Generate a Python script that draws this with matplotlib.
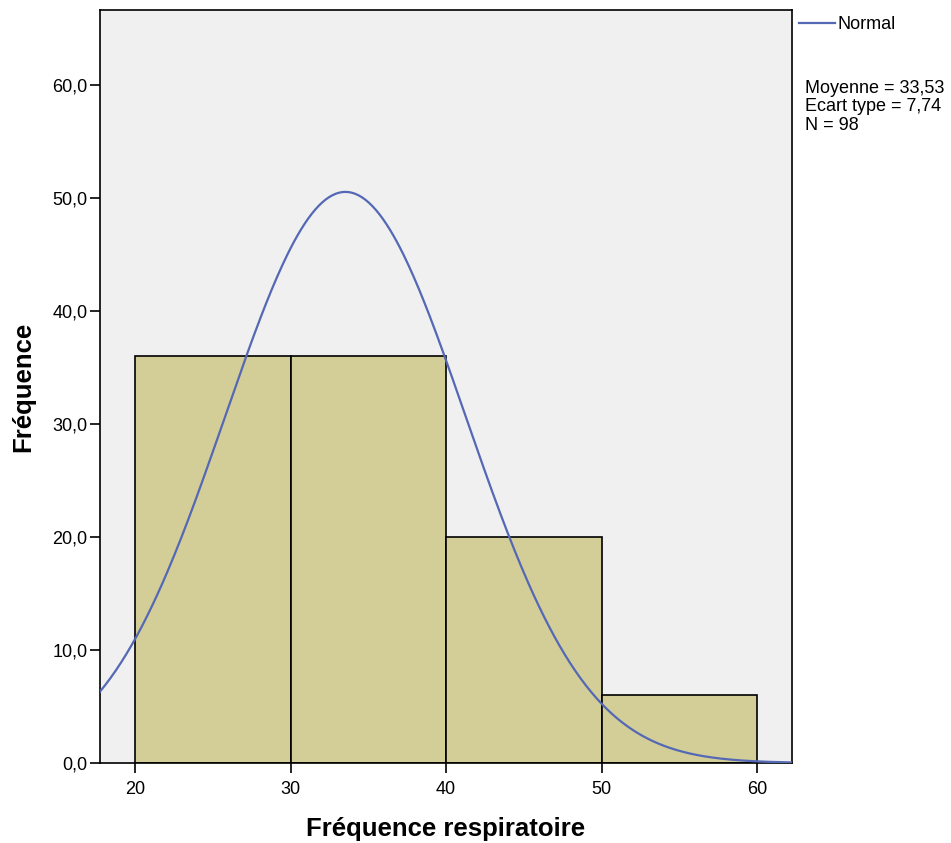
import numpy as np
import matplotlib
matplotlib.use("Agg")
import matplotlib.pyplot as plt

# Histogram data (bin edges and counts)
bin_edges = [20, 30, 40, 50, 60]
counts = [36, 36, 20, 6]
mean = 33.53
std = 7.74
n = 98

plt.rcParams['font.family'] = ['Liberation Sans', 'DejaVu Sans']

fig = plt.figure(figsize=(9.51, 8.43), dpi=100)
ax = fig.add_axes([0.1052, 0.0949, 0.7276, 0.8932])
ax.set_facecolor("#F0F0F0")

widths = np.diff(bin_edges)
ax.bar(bin_edges[:-1], counts, width=widths, align="edge",
       color="#D3CE97", edgecolor="black", linewidth=1.2, zorder=2)

# Normal curve scaled to counts
xs = np.linspace(17.75, 62.25, 400)
bw = widths[0]
ys = n * bw / (std * np.sqrt(2 * np.pi)) * np.exp(-0.5 * ((xs - mean) / std) ** 2)
line, = ax.plot(xs, ys, color="#5468B5", linewidth=1.6, zorder=3)

ax.set_xlim(17.75, 62.25)
ax.set_ylim(0, 66.6)
ax.set_xticks([20, 30, 40, 50, 60])
ax.set_yticks(np.arange(0, 61, 10))
ax.set_yticklabels([("%.1f" % v).replace(".", ",") for v in np.arange(0, 61, 10)])
ax.tick_params(axis="both", labelsize=13, length=7, width=1.2, color="black", pad=2)
ax.tick_params(axis="x", pad=6)

for s in ax.spines.values():
    s.set_linewidth(1.2)
    s.set_color("black")

ax.set_xlabel("Fréquence respiratoire", fontsize=18.5, fontweight="bold", labelpad=14)
ax.set_ylabel("Fréquence", fontsize=18.5, fontweight="bold", labelpad=12)

fig.legend([line], ["Normal"], loc="upper left", bbox_to_anchor=(0.836, 0.985),
           frameon=False, fontsize=13, handlelength=2.0, handletextpad=0.15,
           borderaxespad=0, borderpad=0.2)

fig.text(0.847, 0.905, "Moyenne = %s\nEcart type = %s\nN = %d" % (
    ("%.2f" % mean).replace(".", ","), ("%.2f" % std).replace(".", ","), n),
    fontsize=13, va="top", ha="left", linespacing=1.1)

fig.savefig("out.png", dpi=100)
